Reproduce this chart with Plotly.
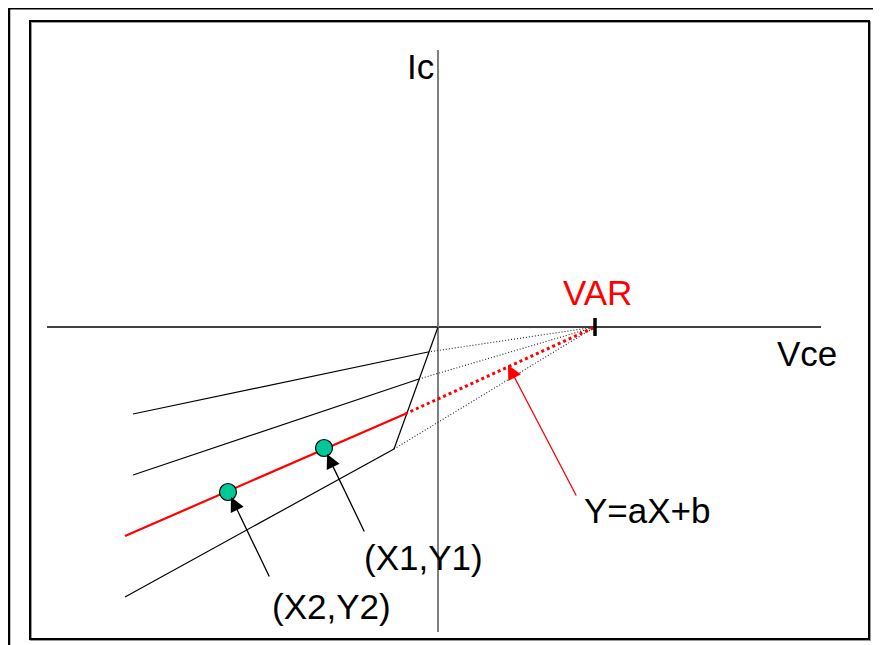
import plotly.graph_objects as go

# diagram units: origin at the Vce/Ic axis crossing, 1 unit ~ 1 px, y up
VAR_X = 157

# load-line families: left end -> knee on the slanted saturation line
line_left_x = [-305, -305, -313]
line_left_y = [-87, -148, -270]
line_knee_x = [-10, -19, -44]
line_knee_y = [-25, -52, -122]

# the fitted red line Y=aX+b
red_x = [-313, -33]
red_y = [-209, -87]

# saturation edge
sat_x = [0, -44]
sat_y = [0, -122]

# measured points
pt_names = ["(X1,Y1)", "(X2,Y2)"]
pt_x = [-114, -210]
pt_y = [-121, -165]

# axes
hax_x = [-391, 383]
vax_y = [277, -305]

FONT = "Liberation Sans, Arial, sans-serif"

fig = go.Figure()

fig.add_trace(go.Scatter(x=hax_x, y=[0, 0], mode="lines",
                         line=dict(color="black", width=1.5)))
fig.add_trace(go.Scatter(x=[0, 0], y=vax_y, mode="lines",
                         line=dict(color="#7f7f7f", width=2)))

for lx, ly, kx, ky in zip(line_left_x, line_left_y, line_knee_x, line_knee_y):
    fig.add_trace(go.Scatter(x=[lx, kx], y=[ly, ky], mode="lines",
                             line=dict(color="black", width=1.2)))
    fig.add_trace(go.Scatter(x=[kx, VAR_X], y=[ky, 0], mode="lines",
                             line=dict(color="#222222", width=1.1, dash="1px,2px")))

fig.add_trace(go.Scatter(x=sat_x, y=sat_y, mode="lines",
                         line=dict(color="black", width=1.2)))

fig.add_trace(go.Scatter(x=red_x, y=red_y, mode="lines",
                         line=dict(color="red", width=2.2)))
fig.add_trace(go.Scatter(x=[red_x[1], VAR_X], y=[red_y[1], 0], mode="lines",
                         line=dict(color="red", width=3, dash="3px,3px")))

# VAR tick
fig.add_trace(go.Scatter(x=[VAR_X, VAR_X], y=[9, -9], mode="lines",
                         line=dict(color="black", width=3.5)))

fig.add_trace(go.Scatter(x=pt_x, y=pt_y, mode="markers",
                         marker=dict(size=17, color="#00c896",
                                     line=dict(color="black", width=1.2))))

# arrows
arrows = [
    # tip x, tip y, tail x, tail y, colour
    (-111, -127, -73, -206, "black"),
    (-207, -170, -168, -251, "black"),
    (70, -38, 139, -170, "red"),
]
for tx, ty, sx, sy, c in arrows:
    fig.add_annotation(x=tx, y=ty, ax=sx, ay=sy, xref="x", yref="y",
                       axref="x", ayref="y", text="", showarrow=True,
                       arrowhead=2, arrowsize=2.2, arrowwidth=1.3,
                       arrowcolor=c)

labels = [
    ("Ic", -18, 261, "black"),
    ("Vce", 369, -26, "black"),
    ("VAR", 159, 35, "red"),
    ("Y=aX+b", 209, -183, "black"),
    (pt_names[0], -15, -230, "black"),
    (pt_names[1], -107, -279, "black"),
]
for txt, x, y, c in labels:
    fig.add_annotation(x=x, y=y, xref="x", yref="y", text=txt,
                       showarrow=False, font=dict(family=FONT, size=35, color=c))

# page sits 8 px in from the window corner
W, H = 873, 637
shapes = [
    # outer page edges
    dict(type="line", xref="paper", yref="paper",
         x0=0, x1=1, y0=1, y1=1,
         line=dict(color="black", width=3)),
    dict(type="line", xref="paper", yref="paper",
         x0=1 / W, x1=1 / W, y0=1, y1=0,
         line=dict(color="black", width=2.5)),
    # inner frame with shadow
    dict(type="rect", xref="paper", yref="paper",
         x0=23 / W, x1=862 / W, y0=1 - 632 / H, y1=1 - 14 / H,
         line=dict(color="#999999", width=2)),
    dict(type="rect", xref="paper", yref="paper",
         x0=22 / W, x1=861 / W, y0=1 - 631 / H, y1=1 - 13 / H,
         line=dict(color="black", width=2)),
]

fig.update_layout(
    width=W, height=H,
    margin=dict(l=0, r=0, t=0, b=0),
    plot_bgcolor="white", paper_bgcolor="white",
    showlegend=False,
    shapes=shapes,
    xaxis=dict(range=[-430, 443], visible=False, fixedrange=True),
    yaxis=dict(range=[-318, 319], visible=False, fixedrange=True),
)

fig.write_html("out.html")
